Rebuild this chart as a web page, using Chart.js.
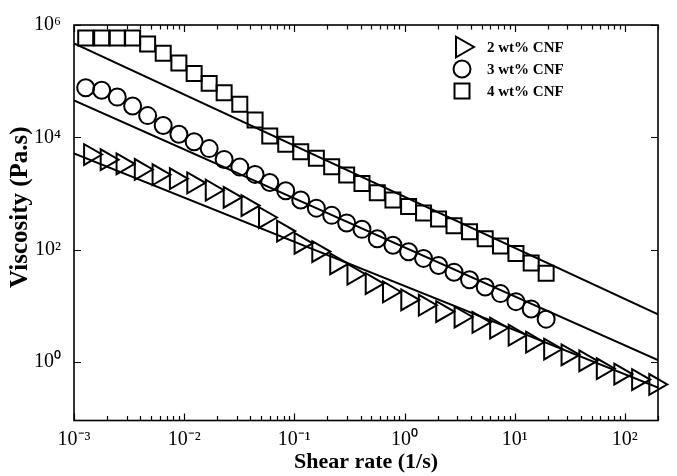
<!DOCTYPE html>
<html><head><meta charset="utf-8">
<script src="https://cdn.jsdelivr.net/npm/chart.js@4.4.1/dist/chart.umd.min.js"></script>
<style>html,body{margin:0;padding:0;background:#fff;}canvas{display:block;}</style>
</head><body>
<canvas id="c" width="677" height="476"></canvas>
<script>
// ---- data ----
const shearRate = [0.001277, 0.001783, 0.00247, 0.003405, 0.004659, 0.006451, 0.008954, 0.01232, 0.01686, 0.02306, 0.03199, 0.04403, 0.05984, 0.08356, 0.1143, 0.1585, 0.2183, 0.2985, 0.4111, 0.5662, 0.7852, 1.089, 1.489, 2.037, 2.815, 3.893, 5.404, 7.435, 10.27, 14.12, 19.31];
const visc4 = [584000, 584000, 584000, 584000, 458000, 313700, 209400, 136500, 91200, 62400, 38700, 20300, 10550, 7540, 5520, 4230, 2980, 2130, 1497, 1029, 763, 585, 446, 350, 264, 207, 156, 116, 85.1, 57.5, 37.9];
const visc3 = [76300, 68700, 52000, 36000, 24300, 16200, 11300, 8340, 6280, 4030, 2940, 2180, 1560, 1115, 763, 546, 406, 298, 229, 156, 119, 91.2, 69.5, 51.8, 39.5, 28.9, 21.5, 16.4, 11.8, 8.75, 5.75];
const shearRate2 = [0.0014, 0.00198, 0.00276, 0.00404, 0.00586, 0.00841, 0.0121, 0.0178, 0.0259, 0.0376, 0.0542, 0.0791, 0.114, 0.165, 0.24, 0.344, 0.504, 0.723, 1.06, 1.53, 2.2, 3.23, 4.7, 6.79, 10.0, 14.4, 21.0, 30.2, 43.8, 63.1, 91.0, 132, 189];
const visc2 = [4930, 3980, 3360, 2670, 2150, 1830, 1540, 1143, 851, 608, 372, 213, 129, 92.2, 55.7, 36.4, 24.8, 17.6, 12.7, 10.2, 7.85, 6.28, 5.03, 4.0, 2.98, 2.24, 1.69, 1.33, 1.04, 0.754, 0.604, 0.483, 0.395];
const fitRate = [0.001, 200];
const fit2 = [5176, 0.346];
const fit3 = [45500, 1.07];
const fit4 = [470000, 7.03];
const seriesNames = ['2 wt% CNF', '3 wt% CNF', '4 wt% CNF'];
const xTickExponents = [-3, -2, -1, 0, 1, 2];
const yTickExponents = [0, 2, 4, 6];
const xTitle = 'Shear rate (1/s)';
const yTitle = 'Viscosity (Pa.s)';

const SERIF = '"Liberation Serif", "Times New Roman", serif';
const sup = {'-':'\u207B','0':'\u2070','1':'\u00B9','2':'\u00B2','3':'\u00B3','4':'\u2074','5':'\u2075','6':'\u2076','7':'\u2077','8':'\u2078','9':'\u2079'};
const powLabel = v => { const e = Math.round(Math.log10(v)); return '10' + String(e).split('').map(c => sup[c]).join(''); };
const pts = (xs, ys) => xs.map((x, i) => ({x, y: ys[i]}));

const markerBase = {showLine: false, borderColor: '#000', backgroundColor: 'rgba(0,0,0,0)', pointBorderWidth: 2, pointBackgroundColor: 'rgba(0,0,0,0)', pointBorderColor: '#000', clip: false};
const lineBase = {showLine: true, borderColor: '#000', borderWidth: 2, pointRadius: 0, fill: false, tension: 0};

const framePlugin = {
  id: 'frame',
  afterDatasetsDraw(chart) {
    const {ctx, chartArea: a, scales: {x, y}} = chart;
    ctx.save();
    ctx.strokeStyle = '#000';
    ctx.lineWidth = 1.2;
    ctx.beginPath();
    for (let e = -3; e <= 2; e++) {
      for (let m = 1; m <= 9; m++) {
        const v = m * Math.pow(10, e);
        if (v < x.min || v > x.max) continue;
        const px = Math.round(x.getPixelForValue(v)) + 0.5;
        const len = m === 1 ? 7 : 4.5;
        ctx.moveTo(px, a.bottom); ctx.lineTo(px, a.bottom - len);
        ctx.moveTo(px, a.top); ctx.lineTo(px, a.top + len);
      }
    }
    yTickExponents.forEach(e => {
      const py = Math.round(y.getPixelForValue(Math.pow(10, e))) + 0.5;
      ctx.moveTo(a.left, py); ctx.lineTo(a.left + 7, py);
      ctx.moveTo(a.right, py); ctx.lineTo(a.right - 7, py);
    });
    ctx.stroke();
    ctx.lineWidth = 1.6;
    ctx.strokeRect(a.left, a.top, a.right - a.left, a.bottom - a.top);
    ctx.restore();
  }
};

const legendPlugin = {
  id: 'customLegend',
  afterDraw(chart) {
    const {ctx} = chart;
    [0, 1, 2].forEach(i => {
      const ds = chart.data.datasets[i];
      const yy = 47 + i * 22;
      ctx.save();
      ctx.strokeStyle = '#000';
      ctx.fillStyle = 'rgba(0,0,0,0)';
      ctx.lineWidth = 2;
      Chart.helpers.drawPoint(ctx, {pointStyle: ds.pointStyle, radius: ds.pointRadius, rotation: ds.pointRotation || 0, borderWidth: 2}, 462, yy);
      ctx.restore();
      ctx.save();
      ctx.font = 'bold 15px ' + SERIF;
      ctx.fillStyle = '#000';
      ctx.textBaseline = 'middle';
      ctx.textAlign = 'left';
      ctx.fillText(ds.label, 487, yy + 1);
      ctx.restore();
    });
  }
};

new Chart(document.getElementById('c'), {
  type: 'scatter',
  data: {
    datasets: [
      {...markerBase, label: seriesNames[0], data: pts(shearRate2, visc2), pointStyle: 'triangle', pointRotation: 90, pointRadius: 12},
      {...markerBase, label: seriesNames[1], data: pts(shearRate, visc3), pointStyle: 'circle', pointRadius: 8.5},
      {...markerBase, label: seriesNames[2], data: pts(shearRate, visc4), pointStyle: 'rect', pointRadius: 10.6},
      {...lineBase, label: 'fit 2', data: pts(fitRate, fit2)},
      {...lineBase, label: 'fit 3', data: pts(fitRate, fit3)},
      {...lineBase, label: 'fit 4', data: pts(fitRate, fit4)}
    ]
  },
  options: {
    responsive: false,
    animation: false,
    devicePixelRatio: 1,
    layout: {padding: {left: 0, right: 19, top: 19, bottom: 0}},
    plugins: {legend: {display: false}, tooltip: {enabled: false}},
    scales: {
      x: {
        type: 'logarithmic', min: 0.001, max: 200,
        grid: {display: false, drawTicks: false},
        border: {display: false},
        afterBuildTicks: s => { s.ticks = xTickExponents.map(e => ({value: Math.pow(10, e)})); },
        afterFit: s => { s.height = 55.5; },
        ticks: {color: '#000', font: {family: SERIF, size: 20}, padding: 7, autoSkip: false, maxRotation: 0, callback: v => powLabel(v)},
        title: {display: true, text: xTitle, color: '#000', font: {family: SERIF, size: 22, weight: 'bold'}, padding: {top: 0, bottom: 0}}
      },
      y: {
        type: 'logarithmic', min: 0.09, max: 1000000,
        grid: {display: false, drawTicks: false},
        border: {display: false},
        afterBuildTicks: s => { s.ticks = yTickExponents.map(e => ({value: Math.pow(10, e)})); },
        afterFit: s => { s.width = 74; },
        ticks: {color: '#000', font: {family: SERIF, size: 20}, padding: 13, autoSkip: false, callback: v => powLabel(v)},
        title: {display: true, text: '     ' + yTitle, color: '#000', font: {family: SERIF, size: 25, weight: 'bold'}, padding: {top: 6, bottom: 0}}
      }
    }
  },
  plugins: [framePlugin, legendPlugin]
});
</script>
</body></html>
